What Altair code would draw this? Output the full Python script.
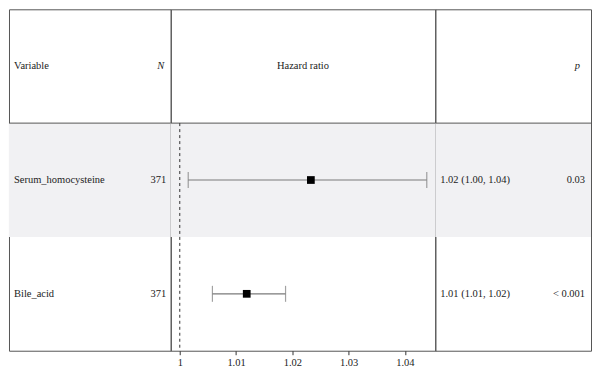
import altair as alt
import pandas as pd

# ---- values ----
variables = ["Serum_homocysteine", "Bile_acid"]
n_values = [371, 371]
hazard_ratio = [1.0233, 1.0119]
ci_lower = [1.0015, 1.0058]
ci_upper = [1.0439, 1.0188]
hr_labels = ["1.02 (1.00, 1.04)", "1.01 (1.01, 1.02)"]
p_labels = ["0.03", "< 0.001"]
shaded_rows = ["Serum_homocysteine"]
x_ticks = [1, 1.01, 1.02, 1.03, 1.04]
x_domain = [0.99839, 1.04541]
reference_hr = [1]
header_variable = "Variable"
header_n = "N"
header_hr = "Hazard ratio"
header_p = "p"

# ---- styling / layout ----
FONT = "Liberation Serif"
TEXT_COLOR = "#222222"
LINE_COLOR = "#555555"
BAR_COLOR = "#7a7a7a"
SHADE = "#f1f1f3"
W_L, W_M, W_R, H = 162, 265, 156, 342
FS = 10.5
HDR = "__header__"
row_order = [HDR] + variables
band_h = round(H / len(row_order))

df = pd.DataFrame({
    "row": variables,
    "n": [str(v) for v in n_values],
    "hr": hazard_ratio,
    "lo": ci_lower,
    "hi": ci_upper,
    "hr_label": hr_labels,
    "p_label": p_labels,
})
shade_df = pd.DataFrame({"row": shaded_rows})
one = pd.DataFrame({"k": [0]})

Y = alt.Y("row:N", scale=alt.Scale(domain=row_order, paddingInner=0, paddingOuter=0), axis=None)

x_axis = alt.Axis(values=x_ticks, format=".2~f", title=None, domain=False, grid=False,
                  tickColor="#333333", tickSize=4, labelFont=FONT, labelFontSize=FS,
                  labelColor=TEXT_COLOR, labelPadding=3, labelFlush=False)
x_scale = alt.Scale(domain=x_domain, nice=False, zero=False)


def X(field):
    return alt.X(f"{field}:Q", scale=x_scale, axis=x_axis)


def shade(w):
    return alt.Chart(shade_df).mark_rect(color=SHADE).encode(
        y=Y, x=alt.value(0), x2=alt.value(w))


def header_rule(w):
    return alt.Chart(one).mark_rule(color=LINE_COLOR, strokeWidth=1).encode(
        x=alt.value(0), x2=alt.value(w), y=alt.value(band_h))


def header_text(label, x, align, italic=False):
    d = pd.DataFrame({"row": [HDR], "t": [label]})
    return alt.Chart(d).mark_text(align=align, baseline="middle", font=FONT, fontSize=FS,
                                  color=TEXT_COLOR,
                                  fontStyle="italic" if italic else "normal").encode(
        y=Y, x=alt.value(x), text="t:N")


def col_text(field, x, align):
    return alt.Chart(df).mark_text(align=align, baseline="middle", font=FONT, fontSize=FS,
                                   color=TEXT_COLOR).encode(
        y=Y, x=alt.value(x), text=f"{field}:N")


left = alt.layer(
    shade(W_L),
    header_rule(W_L),
    header_text(header_variable, 5, "left"),
    header_text(header_n, 155.5, "right", italic=True),
    col_text("row", 5, "left"),
    col_text("n", 157.5, "right"),
).properties(width=W_L, height=H)

ref_df = pd.DataFrame({"hr": reference_hr})
mid = alt.layer(
    shade(W_M),
    header_rule(W_M),
    header_text(header_hr, W_M / 2, "center"),
    alt.Chart(ref_df).mark_rule(color="#333333", strokeDash=[3, 3], strokeWidth=1).encode(
        x=X("hr"), y=alt.value(band_h), y2=alt.value(H)),
    alt.Chart(df).mark_rule(color=BAR_COLOR, strokeWidth=1.2).encode(
        x=X("lo"), x2="hi:Q", y=Y),
    alt.Chart(df).mark_tick(color=BAR_COLOR, thickness=1.2, size=16).encode(x=X("lo"), y=Y),
    alt.Chart(df).mark_tick(color=BAR_COLOR, thickness=1.2, size=16).encode(x=X("hi"), y=Y),
    alt.Chart(df).mark_square(size=60, color="black", opacity=1, filled=True).encode(
        x=X("hr"), y=Y),
).properties(width=W_M, height=H)

right = alt.layer(
    shade(W_R),
    header_rule(W_R),
    header_text(header_p, 145, "right", italic=True),
    col_text("hr_label", 5, "left"),
    col_text("p_label", 150, "right"),
).properties(width=W_R, height=H)

chart = alt.hconcat(left, mid, right, spacing=0, bounds="flush").properties(
    padding=0, background="white"
).configure_view(stroke=LINE_COLOR, strokeWidth=1)

chart.save("out.html", embed_options={"renderer": "svg", "actions": False})
